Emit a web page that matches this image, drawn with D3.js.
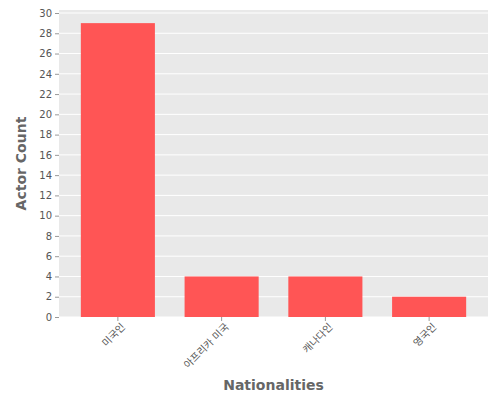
<!DOCTYPE html><html><head><meta charset="utf-8"><script src="https://cdn.jsdelivr.net/npm/d3@7"></script>
<style>body{margin:0}text{font-family:"DejaVu Sans","Noto Sans CJK KR",sans-serif}</style></head><body><svg width="500" height="400"></svg><script>
const categories=["미국인","아프리카 미국","캐나다인","영국인"];
const counts=[29,4,4,2];
const yTicks=d3.range(0,31,2);
const svg=d3.select("svg");
const L=59,R=488,T=10,B=317;
svg.append("rect").attr("x",L).attr("y",T).attr("width",R-L).attr("height",B-T).attr("fill","#e9e9e9");
const x=d3.scaleBand().domain(categories).range([66,481]).paddingInner(0.286).paddingOuter(0.143);
const y=d3.scaleLinear().domain([0,30]).range([B,T+3]);
svg.append("g").selectAll("line").data(yTicks).join("line").attr("x1",L).attr("x2",R).attr("y1",d=>y(d)).attr("y2",d=>y(d)).attr("stroke","#fff").attr("stroke-width",1);
svg.append("g").selectAll("rect").data(counts).join("rect").attr("x",(d,i)=>x(categories[i])).attr("width",x.bandwidth()).attr("y",d=>y(d)).attr("height",d=>B-y(d)).attr("fill","#ff5555");
const ya=svg.append("g").attr("transform",`translate(${L},0)`).call(d3.axisLeft(y).tickValues(yTicks).tickSize(4));
const xa=svg.append("g").attr("transform",`translate(0,${B})`).call(d3.axisBottom(x).tickSize(4));
[ya,xa].forEach(a=>{a.select(".domain").remove();a.selectAll("line").attr("stroke","#999");a.selectAll("text").attr("fill","#555").attr("font-size",10);});
xa.selectAll("text").attr("text-anchor","end").attr("dx","-0.2em").attr("dy","0.6em").attr("transform","rotate(-45)");
svg.append("text").attr("x",(L+R)/2).attr("y",390).attr("text-anchor","middle").attr("font-size",14).attr("font-weight","bold").attr("fill","#666").text("Nationalities");
svg.append("text").attr("transform",`translate(26,${(T+B)/2}) rotate(-90)`).attr("text-anchor","middle").attr("font-size",14).attr("font-weight","bold").attr("fill","#666").text("Actor Count");
</script></body></html>
